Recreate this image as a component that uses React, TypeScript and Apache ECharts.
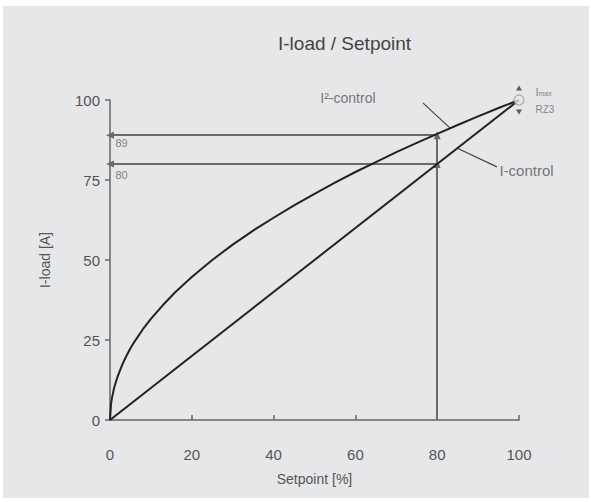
import React, { useEffect, useRef } from "react";
import * as echarts from "echarts";

const xTicks = [0, 20, 40, 60, 80, 100];
const yTicks = [0, 25, 50, 75, 100];
const linearX = [0, 100];
const linearY = [0, 100];
const sqrtX = [0, 0.25, 0.5, 1, 1.5, 2, 3, 4, 5, 6, 8, 10, 13, 16, 20, 25, 30, 35, 40, 45, 50, 55, 60, 65, 70, 75, 80, 85, 90, 95, 100];
const sqrtY = [0, 5, 7, 10, 12.2, 14, 17.3, 20, 22.4, 24.5, 28.3, 31.6, 36, 40, 44.7, 50, 54.8, 59.2, 63.2, 67.1, 70.7, 74.2, 77.5, 80.6, 83.7, 86.6, 89.4, 92.2, 94.9, 97.5, 100];
const readX = 80;
const readLinear = 80;
const readSqrt = 89;

const TEXT = "#555";
const FONT = "Liberation Sans, Arial, sans-serif";

export default function App() {
  const ref = useRef<HTMLDivElement>(null);
  useEffect(() => {
    if (!ref.current) return;
    const chart = echarts.init(ref.current, null, { renderer: "svg" });
    const arrowLine = { color: "#6a6a6a", width: 2, type: "solid" as const };
    chart.setOption({
      animation: false,
      backgroundColor: "transparent",
      graphic: [
        { type: "rect", shape: { x: 3, y: 6, width: 586, height: 492 }, style: { fill: "#e6e7e9" }, z: -10 },
        {
          type: "text",
          left: 278,
          top: 34,
          style: { text: "I-load / Setpoint", fontSize: 19, fill: "#444", fontFamily: FONT },
        },
      ],
      grid: { left: 110, right: 72, top: 100, bottom: 82 },
      xAxis: {
        type: "value",
        min: 0,
        max: 100,
        interval: 20,
        name: "Setpoint [%]",
        nameLocation: "middle",
        nameGap: 52,
        nameTextStyle: { color: TEXT, fontSize: 14, fontFamily: FONT },
        axisLine: { lineStyle: { color: "#666", width: 1.5 } },
        axisTick: { inside: true, length: 5, lineStyle: { color: "#666", width: 1.5 } },
        axisLabel: {
          color: TEXT,
          fontSize: 15,
          fontFamily: FONT,
          margin: 27,
          formatter: (v: number) => (xTicks.includes(v) ? String(v) : ""),
        },
        splitLine: { show: false },
      },
      yAxis: {
        type: "value",
        min: 0,
        max: 100,
        interval: 25,
        name: "I-load [A]",
        nameLocation: "middle",
        nameGap: 58,
        nameTextStyle: { color: TEXT, fontSize: 14, fontFamily: FONT },
        axisLine: { lineStyle: { color: "#666", width: 1.5 } },
        axisTick: { length: 5, lineStyle: { color: "#666", width: 1.5 } },
        axisLabel: {
          color: TEXT,
          fontSize: 15,
          fontFamily: FONT,
          margin: 10,
          formatter: (v: number) => (yTicks.includes(v) ? String(v) : ""),
        },
        splitLine: { show: false },
      },
      series: [
        {
          type: "line",
          data: linearX.map((x, i) => [x, linearY[i]]),
          showSymbol: false,
          lineStyle: { color: "#222", width: 2 },
          z: 5,
        },
        {
          type: "line",
          data: sqrtX.map((x, i) => [x, sqrtY[i]]),
          smooth: false,
          showSymbol: false,
          lineStyle: { color: "#222", width: 2, join: "round" },
          z: 5,
          markLine: {
            silent: true,
            symbol: ["none", "triangle"],
            symbolSize: [7, 8],
            label: { show: false },
            lineStyle: arrowLine,
            data: [
              [{ coord: [readX, readSqrt] }, { coord: [0, readSqrt] }],
              [{ coord: [readX, readLinear] }, { coord: [0, readLinear] }],
              [{ coord: [readX, 0] }, { coord: [readX, readLinear] }],
              [{ coord: [readX, readLinear] }, { coord: [readX, readSqrt] }],
              [
                { coord: [76.5, 99.1], symbol: "none", lineStyle: { color: "#444", width: 1.2 } },
                { coord: [83.1, 91.3], symbol: "none" },
              ],
              [
                { coord: [84.8, 85], symbol: "none", lineStyle: { color: "#444", width: 1.2 } },
                { coord: [94.6, 79.1], symbol: "none" },
              ],
            ],
          },
        },
        {
          type: "scatter",
          data: [[100, 100]],
          symbol: "circle",
          symbolSize: 10,
          itemStyle: { color: "#e6e7e9", borderColor: "#999", borderWidth: 1.2 },
          clip: false,
          z: 6,
        },
        {
          type: "scatter",
          data: [[100, 100]],
          symbol: "triangle",
          symbolSize: [6, 5],
          symbolOffset: [0, -12],
          itemStyle: { color: "#333" },
          clip: false,
        },
        {
          type: "scatter",
          data: [[100, 100]],
          symbol: "triangle",
          symbolRotate: 180,
          symbolSize: [6, 5],
          symbolOffset: [0, 12],
          itemStyle: { color: "#333" },
          clip: false,
        },
        {
          type: "scatter",
          symbolSize: 1,
          itemStyle: { color: "rgba(0,0,0,0)" },
          silent: true,
          clip: false,
          label: {
            show: true,
            position: "right",
            distance: 0,
            color: TEXT,
            fontFamily: FONT,
            formatter: (p: any) => p.value[2],
          },
          data: [
            { value: [1.2, 86.6, "89"], label: { fontSize: 11, color: "#666" } },
            { value: [1.2, 76.6, "80"], label: { fontSize: 11, color: "#666" } },
            { value: [51.3, 100.6, "I²-control"], label: { fontSize: 14, color: TEXT } },
            { value: [95.1, 78.1, "I-control"], label: { fontSize: 15, color: TEXT } },
            {
              value: [103.9, 102.6, "{a|I}{b|max}"],
              label: {
                color: "#666",
                rich: {
                  a: { fontSize: 11, color: "#666", fontFamily: FONT },
                  b: { fontSize: 7, color: "#666", fontFamily: FONT, verticalAlign: "bottom", padding: [3, 0, 0, 0] },
                },
              },
            },
            { value: [103.9, 97, "RZ3"], label: { fontSize: 10, color: "#666" } },
          ],
        },
      ],
    });
    return () => chart.dispose();
  }, []);
  return (
    <div
      ref={ref}
      style={{ position: "fixed", left: 0, top: 0, width: 591, height: 502, background: "#fff" }}
    />
  );
}
